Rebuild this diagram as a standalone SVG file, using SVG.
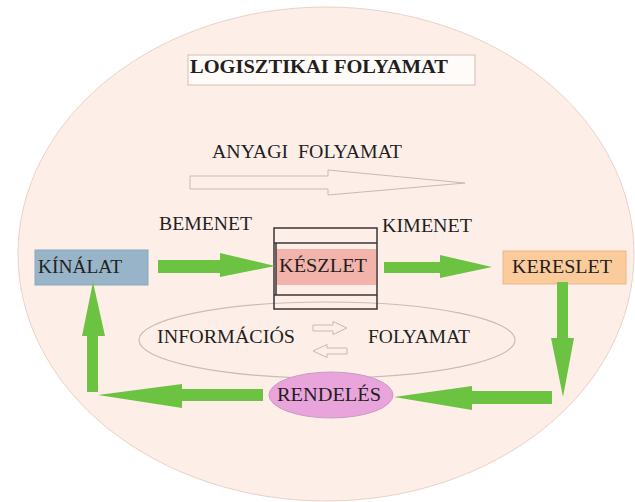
<svg xmlns="http://www.w3.org/2000/svg" width="635" height="502" viewBox="0 0 635 502">
<style>
text{font-family:"Liberation Serif","DejaVu Serif","Times New Roman",serif;fill:#231f1f;font-size:19px}
.g{fill:#6cc241;stroke:none}
.hollow{fill:none;stroke:#c9b9b2;stroke-width:1}
.line{stroke:#3a3535;stroke-width:1.5;fill:none}
</style>
<rect width="635" height="502" fill="#ffffff"/>
<g id="background">
<ellipse cx="326" cy="254" rx="308" ry="247" fill="#fdefe8" stroke="#e8d2c9" stroke-width="1"/>
</g>
<g id="title">
<rect x="188" y="55" width="287" height="30" fill="#fffbf9" stroke="#d3beb7" stroke-width="1"/>
<text x="190" y="73" font-family="Liberation Serif, serif" font-weight="bold" font-size="18" textLength="258" lengthAdjust="spacingAndGlyphs">LOGISZTIKAI FOLYAMAT</text>
</g>
<g id="anyagi-folyamat">
<text x="212" y="158" font-size="17.5" textLength="190" lengthAdjust="spacingAndGlyphs" xml:space="preserve">ANYAGI  FOLYAMAT</text>
<polygon class="hollow" points="190,176 328,176 328,170 465,183 328,195 328,189 190,189"/>
</g>
<g id="informacios-folyamat">
<ellipse cx="327" cy="340" rx="188" ry="38" fill="none" stroke="#cbbcb5" stroke-width="1.2"/>
<text x="157" y="343" textLength="138" lengthAdjust="spacingAndGlyphs">INFORMÁCIÓS</text>
<text x="368" y="343" textLength="102" lengthAdjust="spacingAndGlyphs">FOLYAMAT</text>
<polygon class="hollow" points="313,325 333,325 333,321.5 347,328 333,334.5 333,331 313,331"/>
<polygon class="hollow" points="347,348 327,348 327,344.5 313,351 327,357.5 327,354 347,354"/>
</g>
<g id="bemenet"><text x="159" y="230" textLength="93" lengthAdjust="spacingAndGlyphs">BEMENET</text></g>
<g id="kimenet"><text x="382" y="232" textLength="90" lengthAdjust="spacingAndGlyphs">KIMENET</text></g>
<g id="kinalat">
<rect x="35" y="250" width="113" height="35" fill="#98b4c8" stroke="#8ba7bb" stroke-width="1"/>
<text x="38" y="273" textLength="84" lengthAdjust="spacingAndGlyphs">KÍNÁLAT</text>
</g>
<g id="keszlet">
<rect x="274" y="228" width="103" height="81" fill="none" class="line"/>
<rect x="276" y="249" width="100" height="36" fill="#f2b3ab"/>
<line class="line" x1="274" y1="243" x2="377" y2="243"/>
<line class="line" x1="274" y1="295" x2="377" y2="295"/>
<line class="line" x1="276" y1="243" x2="276" y2="295"/>
<text x="279" y="272" textLength="88" lengthAdjust="spacingAndGlyphs">KÉSZLET</text>
</g>
<g id="kereslet">
<rect x="503" y="251" width="123" height="33" fill="#fccb9c" stroke="#e9b98a" stroke-width="1"/>
<text x="512" y="273" textLength="100" lengthAdjust="spacingAndGlyphs">KERESLET</text>
</g>
<g id="rendeles">
<ellipse cx="331" cy="395" rx="62" ry="23" fill="#eaa4dc" stroke="#c99cc0" stroke-width="1"/>
<text x="277" y="401" textLength="104" lengthAdjust="spacingAndGlyphs">RENDELÉS</text>
</g>
<g id="connectors">
<polygon class="g" points="158,260 220,260 220,253 275,266 220,277 220,273 158,273"/>
<polygon class="g" points="384,262 440,262 440,255 492,267 440,278 440,273 384,273"/>
<polygon class="g" points="557,282 568,282 568,338 574,338 563,397 551,338 557,338"/>
<polygon class="g" points="552,391 472,391 472,386 394,397 472,410 472,404 552,404"/>
<polygon class="g" points="263,389 182,389 182,384 98,395 182,408 182,401 263,401"/>
<polygon class="g" points="87,392 87,336 82,336 93,282 105,336 98,336 98,392"/>
</g>
</svg>
